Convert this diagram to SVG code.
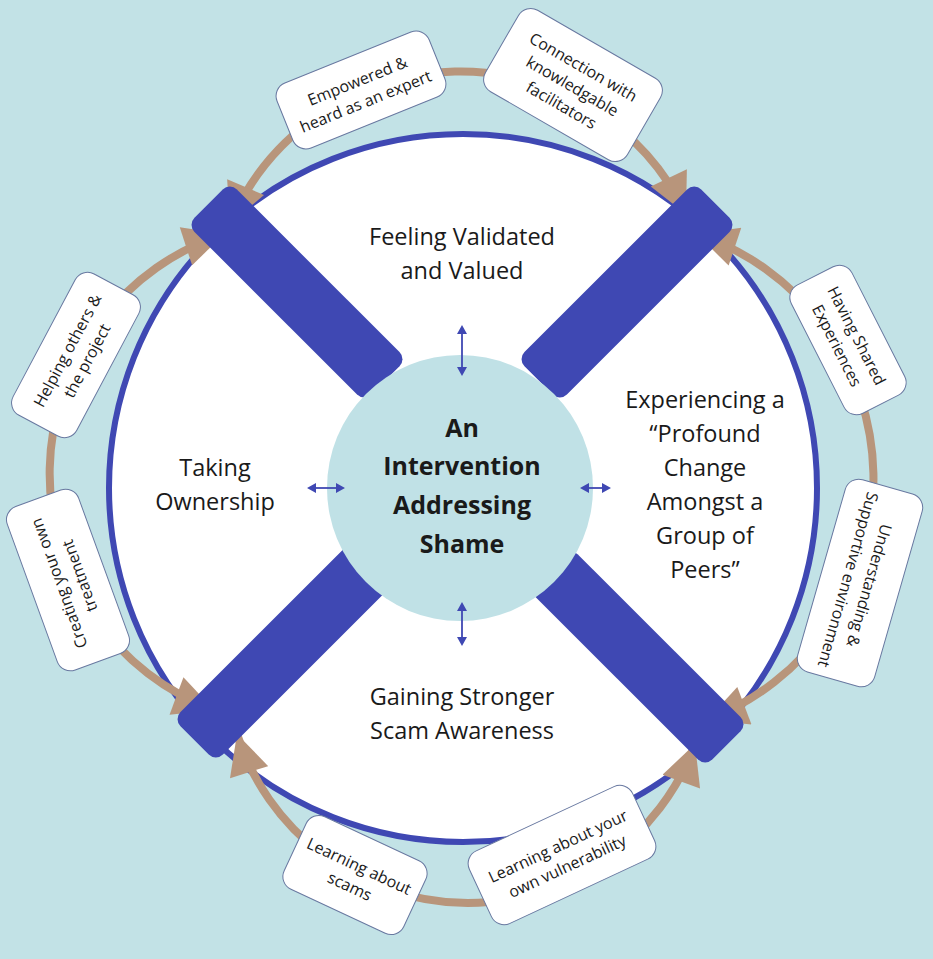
<svg xmlns="http://www.w3.org/2000/svg" width="933" height="959" viewBox="0 0 933 959">
<style>
text{font-family:"Open Sans","Noto Sans","Liberation Sans",sans-serif;fill:#1a1a1a;text-anchor:middle}
.m{font-size:23.5px}
.c{font-size:25px;font-weight:bold}
.l{font-size:16px}
.box{fill:#fff;stroke:#6878a0;stroke-width:1}
.arc{fill:none;stroke:#b8957b;stroke-width:8;marker-start:url(#ah);marker-end:url(#ah)}
.bar{fill:#3f48b3}
.dl{stroke:#3f48b3;stroke-width:1.8}
.dh{fill:#3f48b3}
</style>
<defs>
<marker id="ah" viewBox="0 0 10 10" refX="10" refY="5" markerWidth="42" markerHeight="40" markerUnits="userSpaceOnUse" orient="auto-start-reverse"><path d="M0,0L10,5L0,10z" fill="#b8957b"/></marker>
</defs>
<rect width="933" height="959" fill="#c2e2e6"/>
<g id="ring">
<circle cx="463" cy="488" r="354" fill="#fff" stroke="#3f48b3" stroke-width="6"/>
</g>
<g id="connectors">
<path class="arc" d="M230,224 A250,250 0 0 1 686,214"/>
<path class="arc" d="M697,234 A258,258 0 0 1 707,720"/>
<path class="arc" d="M695,744 A242,242 0 0 1 237,734"/>
<path class="arc" d="M214,710 A252,252 0 0 1 224,234"/>
</g>
<g id="bars">
<rect class="bar" x="-125" y="-30" width="250" height="60" rx="10" transform="translate(297,292) rotate(45)"/>
<rect class="bar" x="-125" y="-30" width="250" height="60" rx="10" transform="translate(627,292) rotate(-45)"/>
<rect class="bar" x="-125" y="-30" width="250" height="60" rx="10" transform="translate(283,652) rotate(-45)"/>
<rect class="bar" x="-125" y="-30" width="250" height="60" rx="10" transform="translate(638,657) rotate(45)"/>
</g>
<g id="center">
<circle cx="460" cy="488" r="133" fill="#c0e1e6"/>
<text class="c" x="462" y="437">An</text>
<text class="c" x="462" y="475">Intervention</text>
<text class="c" x="462" y="514">Addressing</text>
<text class="c" x="462" y="553">Shame</text>
</g>
<g id="double-arrows">
<g id="dbl-top"><line class="dl" x1="462" y1="332" x2="462" y2="369"/><path class="dh" d="M462,325L457,334L467,334z M462,376L457,367L467,367z"/></g>
<g id="dbl-bottom"><line class="dl" x1="462" y1="609" x2="462" y2="639"/><path class="dh" d="M462,602L457,611L467,611z M462,646L457,637L467,637z"/></g>
<g id="dbl-left"><line class="dl" x1="314" y1="488" x2="338" y2="488"/><path class="dh" d="M307,488L316,483L316,493z M345,488L336,483L336,493z"/></g>
<g id="dbl-right"><line class="dl" x1="587" y1="488" x2="604" y2="488"/><path class="dh" d="M580,488L589,483L589,493z M611,488L602,483L602,493z"/></g>
</g>
<g id="validated"><text class="m" x="462" y="245">Feeling Validated</text><text class="m" x="462" y="279">and Valued</text></g>
<g id="ownership"><text class="m" x="215" y="476">Taking</text><text class="m" x="215" y="510">Ownership</text></g>
<g id="profound">
<text class="m" x="705" y="408">Experiencing a</text>
<text class="m" x="705" y="442">“Profound</text>
<text class="m" x="705" y="476">Change</text>
<text class="m" x="705" y="510">Amongst a</text>
<text class="m" x="705" y="544">Group of</text>
<text class="m" x="705" y="578">Peers”</text>
</g>
<g id="awareness"><text class="m" x="462" y="705">Gaining Stronger</text><text class="m" x="462" y="739">Scam Awareness</text></g>
<g id="empowered" transform="translate(361,90) rotate(-22)"><rect class="box" x="-82" y="-35" width="164" height="70" rx="14"/><text class="l" x="0" y="-4">Empowered &amp;</text><text class="l" x="0" y="18">heard as an expert</text></g>
<g id="connection" transform="translate(573,85) rotate(30)"><rect class="box" x="-82" y="-47" width="164" height="94" rx="14"/><text class="l" x="0" y="-15">Connection with</text><text class="l" x="0" y="7">knowledgable</text><text class="l" x="0" y="29">facilitators</text></g>
<g id="shared" transform="translate(848,340) rotate(63)"><rect class="box" x="-72" y="-34" width="144" height="68" rx="14"/><text class="l" x="0" y="-4">Having Shared</text><text class="l" x="0" y="18">Experiences</text></g>
<g id="understanding" transform="translate(860,583) rotate(106)"><rect class="box" x="-100" y="-40" width="200" height="80" rx="14"/><text class="l" x="0" y="-4">Understanding &amp;</text><text class="l" x="0" y="18">Supportive environment</text></g>
<g id="vulnerability" transform="translate(562,855) rotate(-25)"><rect class="box" x="-90" y="-40" width="180" height="80" rx="14"/><text class="l" x="0" y="-4">Learning about your</text><text class="l" x="0" y="18">own vulnerability</text></g>
<g id="scams" transform="translate(355,875) rotate(25)"><rect class="box" x="-66" y="-40" width="132" height="80" rx="14"/><text class="l" x="0" y="-4">Learning about</text><text class="l" x="0" y="18">scams</text></g>
<g id="creating" transform="translate(68,580) rotate(-110)"><rect class="box" x="-87" y="-38" width="174" height="76" rx="14"/><text class="l" x="0" y="-4">Creating your own</text><text class="l" x="0" y="18">treatment</text></g>
<g id="helping" transform="translate(76,355) rotate(-62)"><rect class="box" x="-80" y="-36" width="160" height="72" rx="14"/><text class="l" x="0" y="-4">Helping others &amp;</text><text class="l" x="0" y="18">the project</text></g>
</svg>
